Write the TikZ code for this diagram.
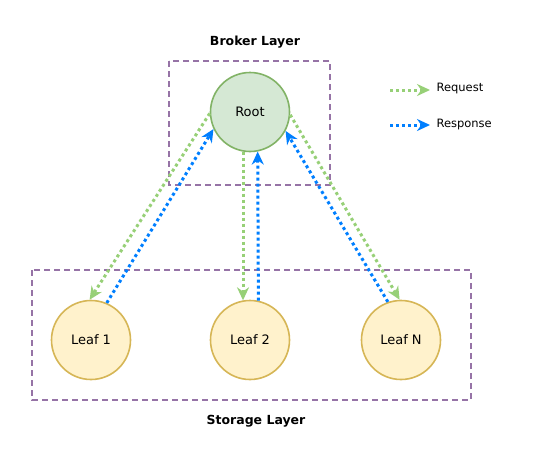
\documentclass[tikz,border=0pt]{standalone}
\usepackage{fontspec}
\setmainfont{DejaVu Sans}
\usetikzlibrary{arrows.meta}
\definecolor{reqgreen}{HTML}{97D077}
\definecolor{resblue}{HTML}{007FFF}
\definecolor{layerpurple}{HTML}{9673A6}
\definecolor{rootfill}{HTML}{D5E8D4}
\definecolor{rootline}{HTML}{82B366}
\definecolor{leaffill}{HTML}{FFF2CC}
\definecolor{leafline}{HTML}{D6B656}
\begin{document}
\begin{tikzpicture}[x=1pt,y=-1pt,
  layer/.style={draw=layerpurple,line width=1.3pt,dash pattern=on 6pt off 4pt},
  rootnode/.style={draw=rootline,fill=rootfill,circle,line width=1.6pt,minimum size=79pt,font=\fontsize{13}{15}\selectfont},
  leafnode/.style={draw=leafline,fill=leaffill,circle,line width=1.6pt,minimum size=79pt,font=\fontsize{13}{15}\selectfont},
  request/.style={draw=reqgreen,line width=3pt,dash pattern=on 3pt off 3pt,-{Stealth[length=13pt,width=12pt]}},
  response/.style={draw=resblue,line width=3pt,dash pattern=on 3pt off 3pt,-{Stealth[length=13pt,width=12pt]}},
  title/.style={font=\fontsize{12.5}{14}\selectfont\bfseries}]
\useasboundingbox (0,0) rectangle (545,461);

\draw[layer] (169,61) rectangle (330,185);
\draw[layer] (32,270) rectangle (471,400);
\node[title] (broker) at (255,42) {Broker Layer};
\node[title] (storage) at (256,421) {Storage Layer};

\node[rootnode] (root) at (250,112) {Root};
\node[leafnode] (leaf1) at (91,340) {Leaf 1};
\node[leafnode] (leaf2) at (250,340) {Leaf 2};
\node[leafnode] (leafN) at (401,340) {Leaf N};

\path[request] (root.182) -- (leaf1.92);
\path[response] (leaf1.67) -- (root.205);
\path[request] (root.260) -- (leaf2.100);
\path[response] (leaf2.78.5) -- (root.281.5);
\path[request] (root.356) -- (leafN.92);
\path[response] (leafN.109) -- (root.332);

% legend
\coordinate (req a) at (390,90);
\coordinate (req b) at (430,90);
\coordinate (res a) at (390,125);
\coordinate (res b) at (430,125);
\path[request] (req a) -- (req b);
\path[response] (res a) -- (res b);
\node[anchor=west,font=\fontsize{11.5}{13}\selectfont] (req label) at (433,89) {Request};
\node[anchor=west,font=\fontsize{11.5}{13}\selectfont] (res label) at (433,124) {Response};
\end{tikzpicture}
\end{document}
